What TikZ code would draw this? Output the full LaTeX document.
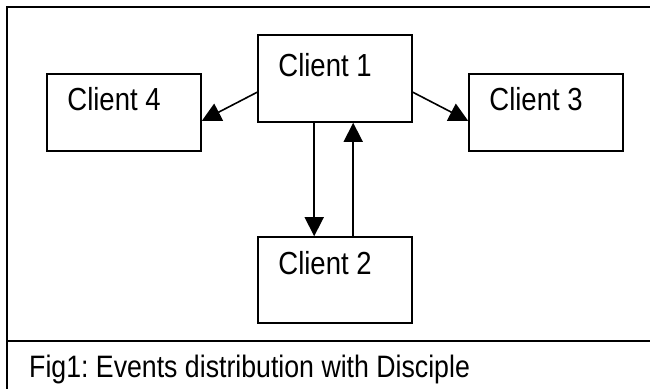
\documentclass[tikz,border=0pt]{standalone}
\usepackage{fontspec}
\setmainfont{Liberation Sans}
\frenchspacing
\usetikzlibrary{arrows.meta,calc}
\tikzset{
  clientbox/.style={draw, line width=1.6pt, minimum width=154pt, inner sep=0pt},
  boxlabel/.style={anchor=base west, inner sep=0pt, yscale=1.16, transform shape,
    font=\fontsize{27.5}{30}\selectfont},
  captiontext/.style={boxlabel, font=\fontsize{26.7}{30}\selectfont},
  flow/.style={line width=1.6pt, -{Triangle[length=19pt,width=19pt]}},
  frameline/.style={line width=2pt}
}
\begin{document}
\begin{tikzpicture}[x=1pt,y=-1pt]
  \useasboundingbox (0,0) rectangle (650,389);
  % outer frame and caption separator
  \coordinate (ftr) at (650,7);
  \coordinate (ftl) at (7,7);
  \coordinate (fbl) at (7,389);
  \coordinate (cl) at (7,341);
  \coordinate (cr) at (650,341);
  \draw[frameline] (ftr) -- (ftl) -- (fbl);
  \draw[frameline] (cl) -- (cr);
  % client boxes
  \node[clientbox, minimum height=87pt] (c1) at (335,78.5) {};
  \node[clientbox, minimum height=77pt] (c4) at (124,112.5) {};
  \node[clientbox, minimum height=77pt] (c3) at (546,112.5) {};
  \node[clientbox, minimum height=86pt] (c2) at (335,280) {};
  \node[boxlabel] (t1) at ($(c1.north west)+(21,42)$) {Client 1};
  \node[boxlabel] (t4) at ($(c4.north west)+(21,37)$) {Client 4};
  \node[boxlabel] (t3) at ($(c3.north west)+(21,37)$) {Client 3};
  \node[boxlabel] (t2) at ($(c2.north west)+(21,38)$) {Client 2};
  % event flows
  \draw[flow] ($(c1.north west)+(0,58)$) -- ($(c4.north east)+(0,47.7)$);
  \draw[flow] ($(c1.north east)+(0,58)$) -- ($(c3.north west)+(0,47.7)$);
  \draw[flow] ($(c1.south west)+(57,0)$) -- ($(c2.north west)+(57,0)$);
  \draw[flow] ($(c2.north west)+(96,0)$) -- ($(c1.south west)+(96,0)$);
  % caption
  \node[captiontext] (cap) at (29,377) {Fig1: Events distribution with Disciple};
\end{tikzpicture}
\end{document}
